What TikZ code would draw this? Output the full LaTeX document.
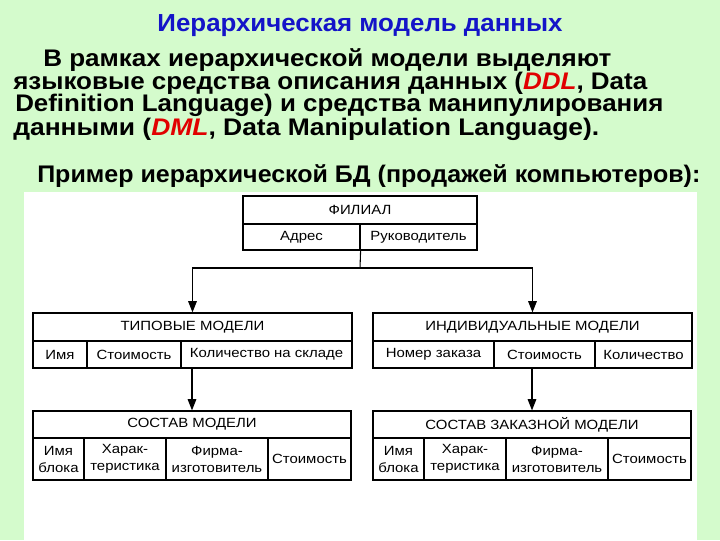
\documentclass[tikz,border=0pt]{standalone}
\usepackage{fontspec}
\setmainfont{Liberation Sans}
\usepackage{graphicx}
\usetikzlibrary{arrows.meta}
\definecolor{bggreen}{RGB}{212,251,204}
\definecolor{titleblue}{RGB}{20,20,200}
\definecolor{accred}{RGB}{225,0,0}
\newcommand\hs[1]{\scalebox{1.12}[1]{#1}}
\newcommand\fitw[2]{\resizebox{#1pt}{\height}{#2}}
\newcommand\tcell[6]{\node[tcell, minimum width={(#4-#2)*0.75pt}, minimum height={(#5-#3)*0.75pt}] (#1) at ({(#2+#4)/2},{(#3+#5)/2}) {#6};}
\tikzset{
  tcell/.style={draw=black, line width=0.9pt, inner sep=0pt, align=center, font=\fontsize{10}{12.8}\selectfont},
  bodyline/.style={anchor=base west, inner sep=0pt, font=\fontsize{18}{20}\selectfont\bfseries},
  conn/.style={draw=black, line width=0.8pt},
  arr/.style={conn, -{Triangle[width=6.5pt,length=8.5pt]}}
}
\begin{document}
\begin{tikzpicture}[x=0.75pt,y=-0.75pt]
\useasboundingbox (0,0) rectangle (720,540);
\fill[bggreen] (0,0) rectangle (720,540);
\fill[white] (24,192) rectangle (697,540);
% heading and text
\node[anchor=base, inner sep=0pt, font=\fontsize{18.5}{20}\selectfont\bfseries, text=titleblue] (title) at (360,31) {\fitw{303.75}{Иерархическая модель данных}};
\node[bodyline] (l1) at (43,66) {\fitw{426}{В рамках иерархической модели выделяют}};
\node[bodyline] (l2) at (13,89) {\fitw{475.5}{языковые средства описания данных (\textcolor{accred}{\itshape DDL}, Data}};
\node[bodyline] (l3) at (15,111) {\fitw{486}{Definition Language) и средства манипулирования}};
\node[bodyline] (l4) at (13,135) {\fitw{439.5}{данными (\textcolor{accred}{\itshape DML}, Data Manipulation Language).}};
\node[bodyline] (l5) at (37,182) {\fitw{497.25}{Пример иерархической БД (продажей компьютеров):}};
% ФИЛИАЛ
\tcell{fil}{243}{196}{477}{224}{\hs{ФИЛИАЛ}}
\tcell{fila}{243}{224}{360}{250}{\hs{Адрес}}
\tcell{filr}{360}{224}{477}{250}{\hs{Руководитель}}
% ТИПОВЫЕ МОДЕЛИ
\tcell{tip}{33}{313}{352}{341}{\hs{ТИПОВЫЕ МОДЕЛИ}}
\tcell{tipa}{33}{341}{87}{368}{\hs{Имя}}
\tcell{tipb}{87}{341}{181}{368}{\hs{Стоимость}}
\tcell{tipc}{181}{341}{352}{368}{\hs{Количество на складе}}
% ИНДИВИДУАЛЬНЫЕ МОДЕЛИ
\tcell{ind}{373}{313}{692}{341}{\hs{ИНДИВИДУАЛЬНЫЕ МОДЕЛИ}}
\tcell{inda}{373}{341}{494}{368}{\hs{Номер заказа}}
\tcell{indb}{494}{341}{595}{368}{\hs{Стоимость}}
\tcell{indc}{595}{341}{692}{368}{\hs{Количество}}
% СОСТАВ МОДЕЛИ
\tcell{sos}{33}{411}{351}{438}{\hs{СОСТАВ МОДЕЛИ}}
\tcell{sosa}{33}{438}{84}{480}{\hs{Имя}\\\hs{блока}}
\tcell{sosb}{84}{438}{166}{480}{\hs{Харак-}\\\hs{теристика}}
\tcell{sosc}{166}{438}{268}{480}{\hs{Фирма-}\\\hs{изготовитель}}
\tcell{sosd}{268}{438}{351}{480}{\hs{Стоимость}}
% СОСТАВ ЗАКАЗНОЙ МОДЕЛИ
\tcell{zak}{373}{411}{691}{438}{\hs{СОСТАВ ЗАКАЗНОЙ МОДЕЛИ}}
\tcell{zaka}{373}{438}{424}{480}{\hs{Имя}\\\hs{блока}}
\tcell{zakb}{424}{438}{506}{480}{\hs{Харак-}\\\hs{теристика}}
\tcell{zakc}{506}{438}{608}{480}{\hs{Фирма-}\\\hs{изготовитель}}
\tcell{zakd}{608}{438}{691}{480}{\hs{Стоимость}}
% connectors
\coordinate (junc) at (360,268);
\draw[conn] (fila.south east) -- (junc);
\draw[arr] (junc) -| (tip.north);
\draw[arr] (junc) -| (ind.north);
\draw[arr] (sos.north |- tipc.south) -- (sos.north);
\draw[arr] (zak.north |- indb.south) -- (zak.north);
\end{tikzpicture}
\end{document}
